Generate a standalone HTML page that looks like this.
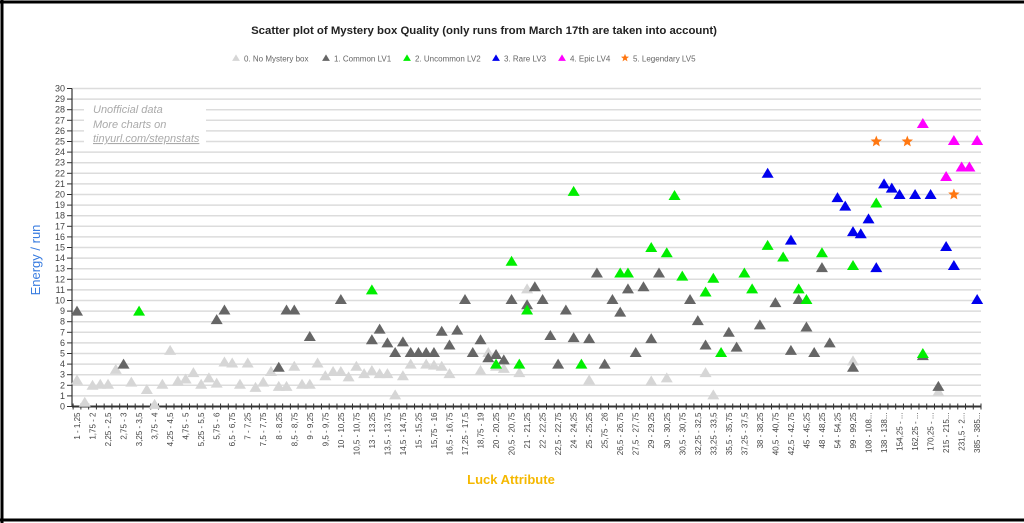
<!DOCTYPE html>
<html><head><meta charset="utf-8"><style>
html,body{margin:0;padding:0;background:#fff;width:1024px;height:523px;overflow:hidden}
svg{display:block;font-family:"Liberation Sans",Arial,sans-serif}
</style></head><body>
<svg id="chart" width="1024" height="523" viewBox="0 0 1024 523" xmlns="http://www.w3.org/2000/svg">
<rect x="0" y="0" width="1024" height="523" fill="#fff"/>
<line x1="0" y1="2" x2="1024" y2="2" stroke="#000" stroke-width="3"/>
<line x1="2" y1="0" x2="2" y2="523" stroke="#000" stroke-width="3"/>
<line x1="0" y1="520" x2="1024" y2="520" stroke="#000" stroke-width="3"/>
<text x="484" y="34" text-anchor="middle" font-size="11.4" font-weight="bold" fill="#222">Scatter plot of Mystery box Quality (only runs from March 17th are taken into account)</text>
<g id="legend" font-size="8" fill="#666"></g>
<g id="grid"></g>
<g id="yaxis" font-size="9" fill="#444"></g>
<g id="xaxis" font-size="8" fill="#444"></g>
<g>
<rect x="84" y="100" width="122" height="46" fill="#fff"/>
<text x="93" y="113" font-size="11" font-style="italic" fill="#aaa">Unofficial data</text>
<text x="93" y="128" font-size="11" font-style="italic" fill="#aaa">More charts on</text>
<text x="93" y="142" font-size="11" font-style="italic" fill="#aaa" text-decoration="underline">tinyurl.com/stepnstats</text>
</g>
<g id="points"></g>
<text transform="translate(40,260) rotate(-90)" text-anchor="middle" font-size="13" fill="#3a7de0">Energy / run</text>
<text x="511" y="484" text-anchor="middle" font-size="13" font-weight="bold" fill="#f5b800">Luck Attribute</text>
</svg>
<script>
const categories=["1 - 1,25","1,25 - 1,5","1,75 - 2","2 - 2,25","2,25 - 2,5","2,5 - 2,75","2,75 - 3","3 - 3,25","3,25 - 3,5","3,5 - 3,75","3,75 - 4","4 - 4,25","4,25 - 4,5","4,5 - 4,75","4,75 - 5","5 - 5,25","5,25 - 5,5","5,5 - 5,75","5,75 - 6","6 - 6,25","6,5 - 6,75","6,75 - 7","7 - 7,25","7,25 - 7,5","7,5 - 7,75","7,75 - 8","8 - 8,25","8,25 - 8,5","8,5 - 8,75","8,75 - 9","9 - 9,25","9,25 - 9,5","9,5 - 9,75","9,75 - 10","10 - 10,25","10,25 - 10,5","10,5 - 10,75","11 - 11,25","13 - 13,25","13,25 - 13,5","13,5 - 13,75","14 - 14,25","14,5 - 14,75","14,75 - 15","15 - 15,25","15,25 - 15,5","15,75 - 16","16 - 16,25","16,5 - 16,75","17 - 17,25","17,25 - 17,5","18 - 18,25","18,75 - 19","19,5 - 19,75","20 - 20,25","20,25 - 20,5","20,5 - 20,75","20,75 - 21","21 - 21,25","21,5 - 21,75","22 - 22,25","22,25 - 22,5","22,5 - 22,75","23 - 23,25","24 - 24,25","24,5 - 24,75","25 - 25,25","25,5 - 25,75","25,75 - 26","26 - 26,25","26,5 - 26,75","27 - 27,25","27,5 - 27,75","28 - 28,25","29 - 29,25","29,5 - 29,75","30 - 30,25","30,25 - 30,5","30,5 - 30,75","31 - 31,25","32,25 - 32,5","33 - 33,25","33,25 - 33,5","34 - 34,25","35,5 - 35,75","36 - 36,25","37,25 - 37,5","37,5 - 37,75","38 - 38,25","39 - 39,25","40,5 - 40,75","41 - 41,25","42,5 - 42,75","44 - 44,25","45 - 45,25","46 - 46,25","48 - 48,25","50 - 50,25","54 - 54,25","60 - 60,25","99 - 99,25","100 - 100,25","108 - 108...","120 - 120...","138 - 138...","150 - 150...","154,25 - ...","160 - 160...","162,25 - ...","165 - 165...","170,25 - ...","200 - 200...","215 - 215...","220 - 220...","231,5 - 2...","300 - 300...","385 - 385..."];
const yTicks=[0,1,2,3,4,5,6,7,8,9,10,11,12,13,14,15,16,17,18,19,20,21,22,23,24,25,26,27,28,29,30];
const seriesNames=["0. No Mystery box","1. Common LV1","2. Uncommon LV2","3. Rare LV3","4. Epic LV4","5. Legendary LV5"];
// [categoryIndex, value]
const noBox=[[0,2.5],[1,0.4],[2,2],[3,2.1],[4,2.1],[5,3.5],[7,2.3],[9,1.6],[10,0.2],[11,2.1],[12,5.3],[13,2.4],[14,2.6],[15,3.2],[16,2.1],[17,2.7],[18,2.2],[19,4.2],[20,4.1],[21,2.1],[22,4.1],[23,1.8],[24,2.3],[25,3.3],[26,1.9],[27,1.9],[28,3.8],[29,2.1],[30,2.1],[31,4.1],[32,2.9],[33,3.3],[34,3.3],[35,2.8],[36,3.8],[37,3.1],[38,3.4],[39,3.1],[40,3.1],[41,1.1],[42,2.9],[43,4.0],[45,4.0],[46,3.9],[47,3.8],[48,3.1],[52,3.4],[53,5.1],[54,3.8],[55,3.6],[57,3.2],[58,11.1],[66,2.5],[74,2.4],[76,2.7],[81,3.2],[82,1.1],[100,4.3],[111,1.4]];
const common=[[0,9],[6,4],[18,8.2],[19,9.1],[26,3.7],[27,9.1],[28,9.1],[30,6.6],[34,10.1],[38,6.3],[39,7.3],[40,6.0],[41,5.1],[42,6.1],[43,5.1],[44,5.1],[45,5.1],[46,5.1],[47,7.1],[48,5.8],[49,7.2],[50,10.1],[51,5.1],[52,6.3],[53,4.6],[54,4.9],[55,4.4],[56,10.1],[58,9.6],[59,11.3],[60,10.1],[61,6.7],[62,4.0],[63,9.1],[64,6.5],[66,6.4],[67,12.6],[68,4.0],[69,10.1],[70,8.9],[71,11.1],[72,5.1],[73,11.3],[74,6.4],[75,12.6],[79,10.1],[80,8.1],[81,5.8],[84,7.0],[85,5.6],[88,7.7],[90,9.8],[92,5.3],[93,10.1],[94,7.5],[95,5.1],[96,13.1],[97,6.0],[100,3.7],[109,4.8],[111,1.9]];
const uncommon=[[8,9],[38,11],[54,4.0],[56,13.7],[57,4.0],[58,9.1],[64,20.3],[65,4.0],[70,12.6],[71,12.6],[74,15.0],[76,14.5],[77,19.9],[78,12.3],[81,10.8],[82,12.1],[83,5.1],[86,12.6],[87,11.1],[89,15.2],[91,14.1],[93,11.1],[94,10.1],[96,14.5],[100,13.3],[103,19.2],[109,5.0]];
const rare=[[89,22.0],[92,15.7],[98,19.7],[99,18.9],[100,16.5],[101,16.3],[102,17.7],[103,13.1],[104,21.0],[105,20.6],[106,20.0],[108,20.0],[110,20.0],[112,15.1],[113,13.3],[116,10.1]];
const epic=[[109,26.7],[112,21.7],[113,25.1],[114,22.6],[115,22.6],[116,25.1]];
const legendary=[[103,25.0],[107,25.0],[113,20.0]];

const NS="http://www.w3.org/2000/svg";
const X0=77,XSTEP=7.76,Y0=406.5,YUNIT=10.6,XL=72,XR=981;
function xs(i){return X0+i*XSTEP;}
function ys(v){return Y0-v*YUNIT;}
function mk(tag,attrs,parent){const e=document.createElementNS(NS,tag);for(const k in attrs)e.setAttribute(k,attrs[k]);parent.appendChild(e);return e;}
function tri(cx,cy,col,parent,s){s=s||1;return mk('polygon',{points:`${cx},${cy-5.5*s} ${cx-6*s},${cy+4.5*s} ${cx+6*s},${cy+4.5*s}`,fill:col},parent);}
function star(cx,cy,col,parent,s){s=s||1;let p=[];for(let k=0;k<10;k++){const r=(k%2?2.6:6)*s,a=-Math.PI/2+k*Math.PI/5;p.push((cx+r*Math.cos(a)).toFixed(1)+','+(cy+r*Math.sin(a)).toFixed(1));}return mk('polygon',{points:p.join(' '),fill:col},parent);}

const grid=document.getElementById('grid'),yax=document.getElementById('yaxis'),xax=document.getElementById('xaxis'),pts=document.getElementById('points'),leg=document.getElementById('legend');
yTicks.forEach(t=>{
  if(t>0){const g=mk('line',{x1:XL,x2:XR,y1:ys(t),y2:ys(t),stroke:'#dcdcdc','stroke-width':1.5},grid);
  
  }
  mk('line',{x1:XL-5,x2:XL,y1:ys(t),y2:ys(t),stroke:'#333','stroke-width':1},yax);
  const lb=mk('text',{x:XL-7,y:ys(t)+3,'text-anchor':'end'},yax);
  
  
  lb.textContent=t;
});
mk('line',{x1:XL,x2:XL,y1:ys(30),y2:ys(0),stroke:'#333','stroke-width':1.2},yax);
mk('line',{x1:XL,x2:XR,y1:ys(0),y2:ys(0),stroke:'#333','stroke-width':2},xax);
categories.forEach((c,i)=>{
  mk('line',{x1:xs(i)-XSTEP/2,x2:xs(i)-XSTEP/2,y1:ys(0)-3,y2:ys(0)+3,stroke:'#333','stroke-width':1},xax);
  if(i%2===0){const t=mk('text',{transform:`translate(${xs(i)+3},${ys(0)+6}) rotate(-90)`,'text-anchor':'end'},xax);
  
  
  t.textContent=c;}
});
mk('line',{x1:XR,x2:XR,y1:ys(0)-3,y2:ys(0)+3,stroke:'#333','stroke-width':1},xax);

const series=[[noBox,'#d6d6d6','tri'],[common,'#666666','tri'],[uncommon,'#00ee00','tri'],[rare,'#0000ee','tri'],[epic,'#ff00ff','tri'],[legendary,'#ff7711','star']];
series.forEach((s,si)=>{
  s[0].forEach(d=>{
    const e=s[2]==='tri'?tri(xs(d[0]),ys(d[1]),s[1],pts):star(xs(d[0]),ys(d[1]),s[1],pts);
    
    
  });
});
const legX=[236,326,407,496,562,625];
seriesNames.forEach((n,i)=>{
  const g=mk('g',{},leg);
  
  
  const col=series[i][1];
  if(i<5)tri(legX[i],58,col,g,0.65);
  else star(legX[i],58,col,g,0.7);
  const t=mk('text',{x:legX[i]+8,y:61.5},g);
  t.textContent=n;
});
</script>
</body></html>
